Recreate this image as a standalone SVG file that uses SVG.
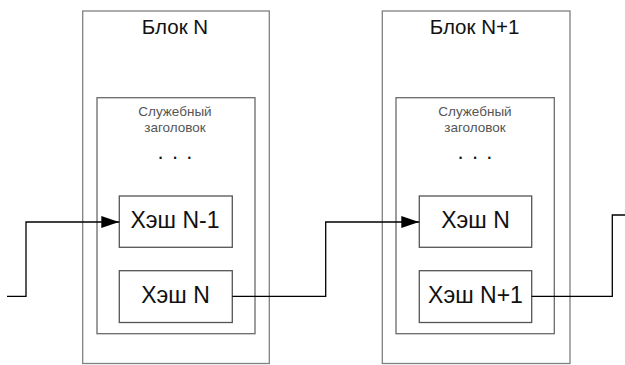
<svg xmlns="http://www.w3.org/2000/svg" width="625" height="365" viewBox="0 0 625 365">
  <defs>
    <marker id="arrow" markerUnits="userSpaceOnUse" markerWidth="18" markerHeight="12" refX="18" refY="6" orient="auto">
      <path d="M0,0 L18,6 L0,12 Z" fill="#000"/>
    </marker>
    <style>
      .outer { fill: #fff; stroke: #808080; stroke-width: 1.3; }
      .inner { fill: #fff; stroke: #6a6a6a; stroke-width: 1.3; }
      .hash  { fill: #fff; stroke: #555; stroke-width: 1.3; }
      .title { font-family: "Liberation Sans", Arial, sans-serif; font-size: 20.5px; fill: #111; text-anchor: middle; }
      .hlabel { font-family: "Liberation Sans", Arial, sans-serif; font-size: 23px; fill: #111; text-anchor: middle; }
      .small { font-family: "Liberation Sans", Arial, sans-serif; font-size: 13.5px; fill: #555; text-anchor: middle; }
      .dots  { font-family: "Liberation Sans", Arial, sans-serif; font-size: 22px; fill: #111; text-anchor: middle; letter-spacing: 1.05px; }
      .link  { fill: none; stroke: #000; stroke-width: 1.3; }
    </style>
  </defs>
  <rect width="625" height="365" fill="#fff"/>

  <!-- Block N -->
  <g id="block-n">
    <rect class="outer" x="82.7" y="11" width="186.6" height="352.5"/>
    <text class="title" x="175" y="34">Блок N</text>
    <rect class="inner" x="97" y="97.7" width="158" height="236"/>
    <text class="small" x="175" y="116">Служебный</text>
    <text class="small" x="175" y="131.5">заголовок</text>
    <text class="dots" x="175.5" y="158.5">. . .</text>
  </g>
  <g id="hash-n-1">
    <rect class="hash" x="119.3" y="196" width="113" height="51.3"/>
    <text class="hlabel" x="175" y="228">Хэш N-1</text>
  </g>
  <g id="hash-n">
    <rect class="hash" x="119.3" y="270.7" width="113" height="51.8"/>
    <text class="hlabel" x="175.5" y="302.8">Хэш N</text>
  </g>

  <!-- Block N+1 -->
  <g id="block-n1">
    <rect class="outer" x="382.3" y="11" width="187.7" height="352.5"/>
    <text class="title" x="474.5" y="34">Блок N+1</text>
    <rect class="inner" x="396" y="97.7" width="158.3" height="236"/>
    <text class="small" x="475" y="116">Служебный</text>
    <text class="small" x="475" y="131.5">заголовок</text>
    <text class="dots" x="475.5" y="158.5">. . .</text>
  </g>
  <g id="hash-n-copy">
    <rect class="hash" x="419.3" y="196" width="112.4" height="51.3"/>
    <text class="hlabel" x="475.5" y="228">Хэш N</text>
  </g>
  <g id="hash-n1">
    <rect class="hash" x="419.3" y="270.7" width="112.4" height="51.8"/>
    <text class="hlabel" x="475.5" y="302.8">Хэш N+1</text>
  </g>

  <!-- Links between blocks -->
  <g id="connectors">
    <path class="link" d="M7,296.3 H26 V222 H119.3" marker-end="url(#arrow)"/>
    <path class="link" d="M232.3,296.3 H325.7 V222 H419.3" marker-end="url(#arrow)"/>
    <path class="link" d="M531.7,296.3 H612.3 V215 H625"/>
  </g>
</svg>
